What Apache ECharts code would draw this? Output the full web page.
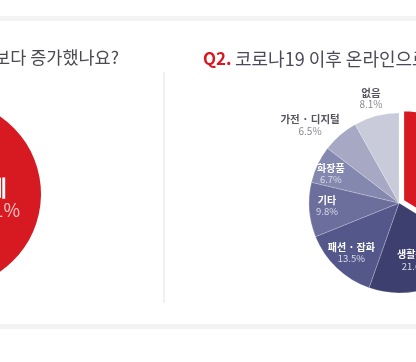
<!DOCTYPE html>
<html><head><meta charset="utf-8">
<script src="https://cdn.jsdelivr.net/npm/echarts@6/dist/echarts.min.js"></script>
<style>html,body{margin:0;padding:0;background:#fff}#c{width:416px;height:362px}</style>
</head><body><div id="c"></div>
<script>
// Q1 (left, mostly cropped)
const q1Categories = ['예', '아니오'];
const q1Values = [71, 29];
const q1Colors = ['#d71a21', '#d9d9de'];
// Q2 (right)
const q2Categories = ['식품', '생활용품', '패션 · 잡화', '기타', '화장품', '가전 · 디지털', '없음'];
const q2Values = [33.8, 21.6, 13.5, 9.8, 6.7, 6.5, 8.1];
const q2Colors = ['#d71a21', '#3d3f6f', '#54578a', '#6c6f9c', '#8588ae', '#a7a9c4', '#c9cbdb'];
const q2Outside = ['가전 · 디지털', '없음'];
const titles = {
  q1: ['Q1.', '코로나19 이전보다 증가했나요?'],
  q2: ['Q2.', '코로나19 이후 온라인으로 가장 많이 구매한 품목은?']
};

const FONT = '"Noto Sans CJK KR", "Noto Sans", sans-serif';
const chart = echarts.init(document.getElementById('c'), null, {renderer: 'canvas'});

const C2 = [399, 203], R2 = 90;
const labelOffsets = {'생활용품': [-8, -12], '화장품': [-2, 2], '기타': [1, -3], '패션 · 잡화': [3, -3], '가전 · 디지털': [-16, 6], '없음': [0, 3]};

const innerLabelData = q2Categories.map((n, i) => ({
  name: n, value: q2Values[i],
  label: {show: n !== '식품' && !q2Outside.includes(n), offset: labelOffsets[n] || [0, 0]}
}));
const outerLabelData = q2Categories.map((n, i) => ({
  name: n, value: q2Values[i],
  label: {show: q2Outside.includes(n), offset: labelOffsets[n] || [0, 0]}
}));

chart.setOption({
  backgroundColor: '#ffffff',
  animation: false,
  graphic: [
    {type: 'rect', shape: {x: 0, y: 16, width: 416, height: 5}, style: {fill: '#f3f3f4'}, silent: true},
    {type: 'rect', shape: {x: 0, y: 324, width: 416, height: 5}, style: {fill: '#f3f3f4'}, silent: true},
    {type: 'rect', shape: {x: 163, y: 72, width: 2, height: 231}, style: {fill: '#f1f1f3'}, silent: true},
    {type: 'text', x: 119, y: 57, silent: true, style: {
      text: '{q|' + titles.q1[0] + '} {t|' + titles.q1[1] + '}', align: 'right', verticalAlign: 'middle',
      rich: {q: {fill: '#d71a21', fontSize: 18, fontWeight: 'bold', fontFamily: FONT},
             t: {fill: '#4a4a52', fontSize: 17.5, fontFamily: FONT}}
    }},
    {type: 'text', x: 203, y: 59, silent: true, style: {
      text: '{q|' + titles.q2[0] + '} {t|' + titles.q2[1] + '}', align: 'left', verticalAlign: 'middle',
      rich: {q: {fill: '#d71a21', fontSize: 17, fontWeight: 'bold', fontFamily: FONT},
             t: {fill: '#4a4a58', fontSize: 18, fontFamily: FONT}}
    }}
  ],
  series: [
    {
      type: 'pie', center: [-53, 194], radius: [0, 94], startAngle: 122.8, clockwise: true,
      silent: true,
      data: q1Categories.map((n, i) => ({name: n, value: q1Values[i], itemStyle: {color: q1Colors[i]},
        label: {show: i === 0}})),
      label: {position: 'inside', formatter: p => '{n|' + p.name + '}\n{v|' + p.value + '%}',
        rich: {n: {color: '#fff', fontSize: 22, fontWeight: 'bold', fontFamily: FONT, lineHeight: 24},
               v: {color: 'rgba(255,225,225,0.85)', fontSize: 18, fontFamily: FONT, lineHeight: 22, padding: [0, 0, 0, 10]}}},
      labelLine: {show: false}
    },
    {
      type: 'pie', center: C2, radius: [0, R2], startAngle: 90, clockwise: true,
      selectedMode: 'single', selectedOffset: 5, silent: true,
      data: q2Categories.map((n, i) => ({name: n, value: q2Values[i], selected: i === 0,
        itemStyle: {color: q2Colors[i]}, select: {itemStyle: {color: q2Colors[i], borderColor: '#fff', borderWidth: 1.5}}})),
      itemStyle: {borderColor: 'rgba(255,255,255,0.35)', borderWidth: 0.6},
      label: {show: false}, labelLine: {show: false}
    },
    {
      type: 'pie', center: C2, radius: [R2 * 0.56, R2], startAngle: 90, clockwise: true, silent: true,
      itemStyle: {color: 'rgba(0,0,0,0)'},
      data: innerLabelData,
      label: {position: 'inside', formatter: p => '{n|' + p.name + '}\n{v|' + p.value + '%}',
        rich: {n: {color: '#ffffff', fontSize: 10, fontWeight: 'bold', fontFamily: FONT, lineHeight: 12},
               v: {color: '#d9dbeb', fontSize: 9.5, fontFamily: FONT, lineHeight: 11}}},
      labelLine: {show: false}
    },
    {
      type: 'pie', center: C2, radius: [R2 * 1.05, R2 * 1.36], startAngle: 90, clockwise: true, silent: true,
      itemStyle: {color: 'rgba(0,0,0,0)'},
      data: outerLabelData,
      label: {position: 'inside', formatter: p => '{n|' + p.name + '}\n{v|' + p.value + '%}',
        rich: {n: {color: '#55555f', fontSize: 10.5, fontWeight: 'bold', fontFamily: FONT, lineHeight: 12},
               v: {color: '#8a8a94', fontSize: 10, fontFamily: FONT, lineHeight: 11}}},
      labelLine: {show: false}
    }
  ]
});
</script></body></html>
